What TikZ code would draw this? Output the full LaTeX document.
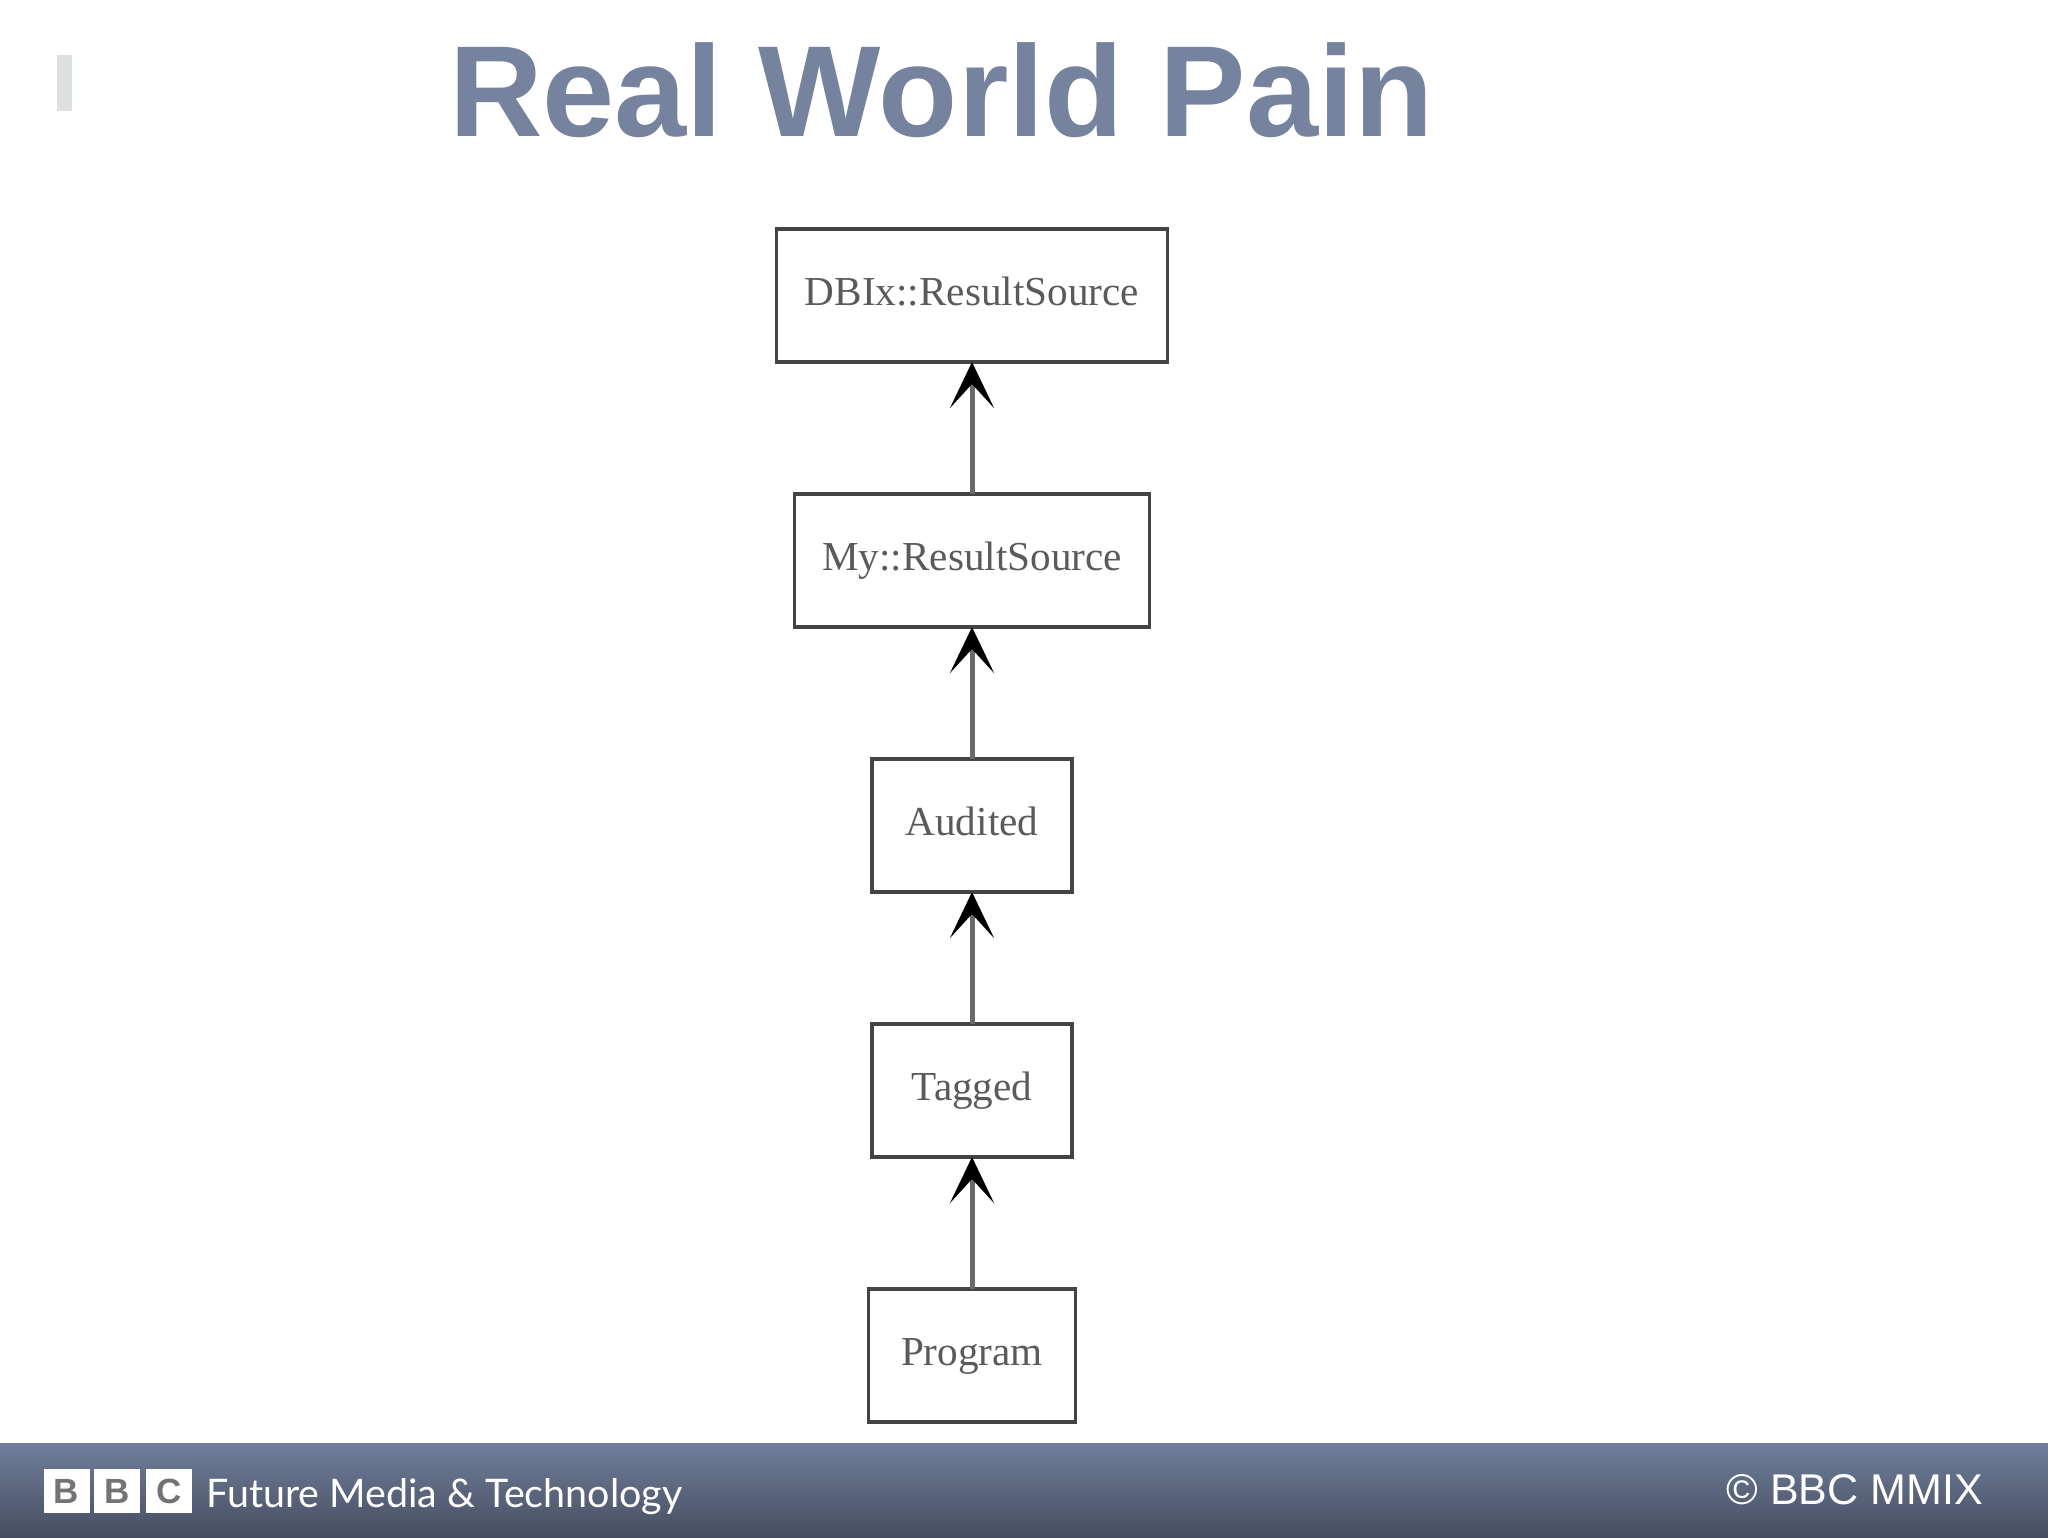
\documentclass[tikz,border=0pt]{standalone}
\usepackage{fontspec}
\setmainfont{Liberation Serif}
\newfontfamily\headfont{Liberation Sans}
\newfontfamily\footfont{Lato}
\usetikzlibrary{arrows.meta,positioning}
\definecolor{titleblue}{HTML}{75839F}
\definecolor{boxline}{HTML}{444444}
\definecolor{boxtext}{HTML}{5A5A5A}
\definecolor{barline}{HTML}{6A6A6A}
\definecolor{barlight}{HTML}{6F7F9B}
\definecolor{bardark}{HTML}{474D60}
\definecolor{markgrey}{HTML}{DCE1DF}
\tikzset{
  classbox/.style={draw=boxline,line width=3.5pt,outer sep=0pt,minimum height=133pt,
    text=boxtext,font=\fontsize{41.2}{41.2}\selectfont,text height=29.6pt,text depth=9pt,inner sep=0pt},
  isa/.style={draw=barline,line width=5pt,-{Stealth[length=46pt,width=44pt,inset=24pt,color=black]}},
  logoletter/.style={fill=white,minimum width=46pt,minimum height=44pt,inner sep=0pt,
    text=black!55,font=\headfont\bfseries\fontsize{35}{35}\selectfont}
}
\begin{document}
\begin{tikzpicture}[x=1pt,y=-1pt,node distance=132pt]
\useasboundingbox (0,0) rectangle (2048,1538);
\shade[top color=barlight,bottom color=bardark] (0,1443) rectangle (2048,1538);
\fill[fill=markgrey] (57,55) rectangle (72,111);
\node[anchor=base west,inner sep=0pt,text=titleblue,font=\headfont\bfseries\fontsize{129.6}{129.6}\selectfont] (title) at (449,137) {Real World Pain};
\node[classbox,minimum width=391pt] (source) at (972,295.5) {DBIx::ResultSource};
\node[classbox,minimum width=355pt,below=of source] (my) {My::ResultSource};
\node[classbox,minimum width=200pt,below=of my] (audited) {Audited};
\node[classbox,minimum width=200pt,below=of audited] (tagged) {Tagged};
\node[classbox,minimum width=207pt,below=of tagged] (program) {Program};
\draw[isa] (my) -- (source);
\draw[isa] (audited) -- (my);
\draw[isa] (tagged) -- (audited);
\draw[isa] (program) -- (tagged);
\foreach \letter/\xpos in {B/66.5,B/117,C/169} {
  \node[logoletter] (logo\xpos) at (\xpos,1491) {\letter};
}
\node[anchor=base west,inner sep=0pt,text=white,font=\footfont\fontsize{39.4}{39.4}\selectfont] (unit) at (206,1507) {Future Media \& Technology};
\node[anchor=base east,inner sep=0pt,text=white,font=\headfont\fontsize{43}{43}\selectfont] (rights) at (1983,1504) {© BBC MMIX};
\end{tikzpicture}
\end{document}
